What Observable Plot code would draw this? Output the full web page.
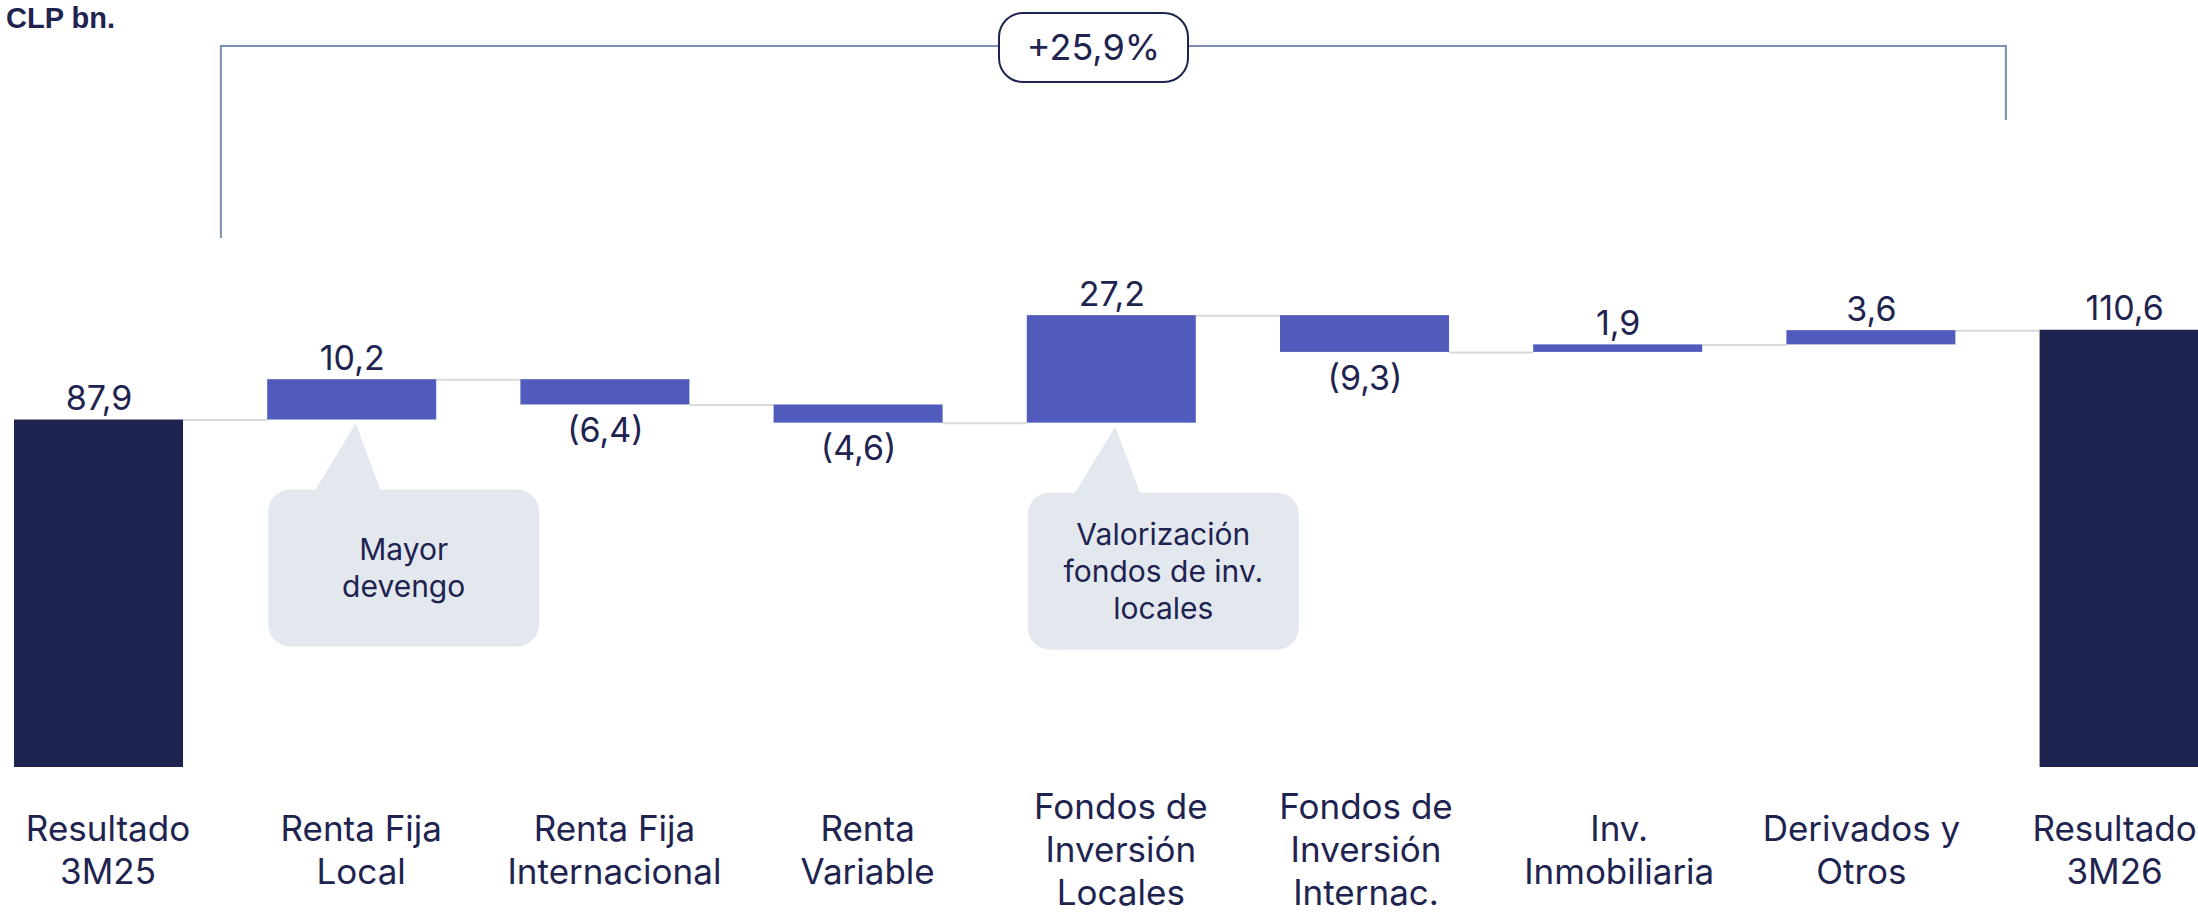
<!DOCTYPE html>
<html><head><meta charset="utf-8">
<script src="https://cdn.jsdelivr.net/npm/d3@7"></script>
<script src="https://cdn.jsdelivr.net/npm/@observablehq/plot@0.6"></script>
<style>
html,body{margin:0;padding:0;background:#fff;overflow:hidden;}
#wrap{position:relative;width:2198px;height:913px;}
#title{position:absolute;left:6px;top:4px;font:bold 29px/29px "Liberation Sans", Arial, sans-serif;color:#1e2350;white-space:nowrap;}
</style></head><body>
<div id="wrap"><div id="title">CLP bn.</div></div>
<script>
// ---- data ----
const categories = ["Resultado 3M25", "Renta Fija Local", "Renta Fija Internacional", "Renta Variable",
  "Fondos de Inversión Locales", "Fondos de Inversión Internac.", "Inv. Inmobiliaria", "Derivados y Otros", "Resultado 3M26"];
const tickLabels = ["Resultado\n3M25", "Renta Fija\nLocal", "Renta Fija\nInternacional", "Renta\nVariable",
  "Fondos de\nInversión\nLocales", "Fondos de\nInversión\nInternac.", "Inv.\nInmobiliaria", "Derivados y\nOtros", "Resultado\n3M26"];
const values = [87.9, 10.2, -6.4, -4.6, 27.2, -9.3, 1.9, 3.6, 110.6];
const kinds = ["total", "delta", "delta", "delta", "delta", "delta", "delta", "delta", "total"];
const changeLabel = "+25,9%";
const calloutCategories = ["Renta Fija Local", "Fondos de Inversión Locales"];
const calloutTexts = ["Mayor\ndevengo", "Valorización\nfondos de inv.\nlocales"];

// ---- styles ----
const NAVY = "#1e2350", BLUE = "#505bbb", GREY = "#d9d9d9", BRACKET = "#7b8fb5", CALLOUT = "#e3e8ef";
const FONT = "Inter, 'Noto Sans', sans-serif";

// ---- derived table ----
let run = 0;
const rows = categories.map((c, i) => {
  let y1, y2;
  if (kinds[i] === "total") { y1 = 0; y2 = values[i]; }
  else { y1 = run; y2 = run + values[i]; }
  run = y2;
  return {idx: i, cat: c, tick: tickLabels[i], value: values[i], kind: kinds[i], y1, y2,
          lo: Math.min(y1, y2), hi: Math.max(y1, y2)};
});
const links = rows.slice(0, -1).map((r, i) => ({from: r.cat, to: rows[i + 1].cat, level: r.y2}));
const fmt = v => { const s = Math.abs(v).toFixed(1).replace(".", ","); return v < 0 ? `(${s})` : s; };

const base = {
  width: 2198, height: 913, marginTop: 174, marginBottom: 146, marginLeft: 0, marginRight: 0,
  x: {type: "band", domain: categories, range: [14, 2208.6], paddingInner: 0.3325, paddingOuter: 0, round: false, axis: null},
  y: {domain: [0, 150], axis: null},
  color: {domain: ["total", "delta"], range: [NAVY, BLUE]},
  style: {fontFamily: FONT, background: "white", color: NAVY, overflow: "hidden"}
};

const probe = Plot.plot({...base, marks: [Plot.barY(rows, {x: "cat", y1: "y1", y2: "y2"})]});
const bw = probe.scale("x").bandwidth;

function annotations(index, scales, vals, dimensions) {
  const {x, y} = scales;
  const bwid = x.bandwidth(), gap = x.step() - bwid;
  const g = d3.create("svg:g");
  // bracket
  const xl = x(categories[0]) + bwid + gap * 0.45;
  const xr = x(categories[categories.length - 1]) - gap * 0.4;
  const top = 46;
  g.append("path").attr("d", `M${xl},${top + 192}V${top}H${xr}V${top + 74}`)
    .attr("fill", "none").attr("stroke", BRACKET).attr("stroke-width", 2);
  const cx = dimensions.width / 2 - 5.5;
  g.append("rect").attr("x", cx - 94.5).attr("y", 13).attr("width", 189).attr("height", 69)
    .attr("rx", 24).attr("fill", "white").attr("stroke", NAVY).attr("stroke-width", 2);
  g.append("text").attr("x", cx).attr("y", 47.5).attr("dy", "0.35em").attr("text-anchor", "middle")
    .attr("font-size", 36).attr("fill", NAVY).attr("font-family", FONT).text(changeLabel);
  // callouts
  calloutCategories.forEach((c, k) => {
    const r = rows.find(d => d.cat === c);
    const bottom = y(r.lo);
    const left = x(c) + 1, bt = bottom + 70, w = 271, h = 157;
    const tipX = x(c) + bwid / 2 + 4, tipY = bottom + 4;
    g.append("path").attr("d", `M${left + 46},${bt + 2}L${tipX},${tipY}L${left + 113},${bt + 2}Z`).attr("fill", CALLOUT);
    g.append("rect").attr("x", left).attr("y", bt).attr("width", w).attr("height", h).attr("rx", 22).attr("fill", CALLOUT);
    const lines = calloutTexts[k].split("\n");
    const lh = 37, ccy = bt + h / 2;
    const t = g.append("text").attr("text-anchor", "middle").attr("font-size", 30).attr("fill", NAVY).attr("font-family", FONT);
    lines.forEach((ln, j) => {
      t.append("tspan").attr("x", left + w / 2).attr("y", ccy + (j - (lines.length - 1) / 2) * lh).attr("dy", "0.35em").text(ln);
    });
  });
  return g.node();
}

const tickStyle = {x: "cat", text: "tick", frameAnchor: "bottom", dy: 81, lineAnchor: "middle", lineHeight: 1.23, fontSize: 35, fill: NAVY};

const chart = Plot.plot({
  ...base,
  marks: [
    Plot.ruleY(links, {x1: "from", x2: "to", y: "level", stroke: GREY, strokeWidth: 2, insetLeft: bw, insetRight: bw}),
    Plot.barY(rows, {x: "cat", y1: "y1", y2: "y2", fill: "kind"}),
    Plot.text(rows.filter(r => r.value >= 0), {x: "cat", y: "hi", text: r => fmt(r.value), lineAnchor: "bottom", dy: -10, fontSize: 34, fill: NAVY}),
    Plot.text(rows.filter(r => r.value < 0), {x: "cat", y: "lo", text: r => fmt(r.value), lineAnchor: "top", dy: 13, fontSize: 34, fill: NAVY}),
    Plot.text(rows.filter(r => r.idx <= 4), {...tickStyle, dx: 9}),
    Plot.text(rows.filter(r => r.idx > 4 && r.idx <= 6), {...tickStyle, dx: 1}),
    Plot.text(rows.filter(r => r.idx > 6), {...tickStyle, dx: -10}),
    annotations
  ]
});
document.getElementById("wrap").appendChild(chart);
</script>
</body></html>
